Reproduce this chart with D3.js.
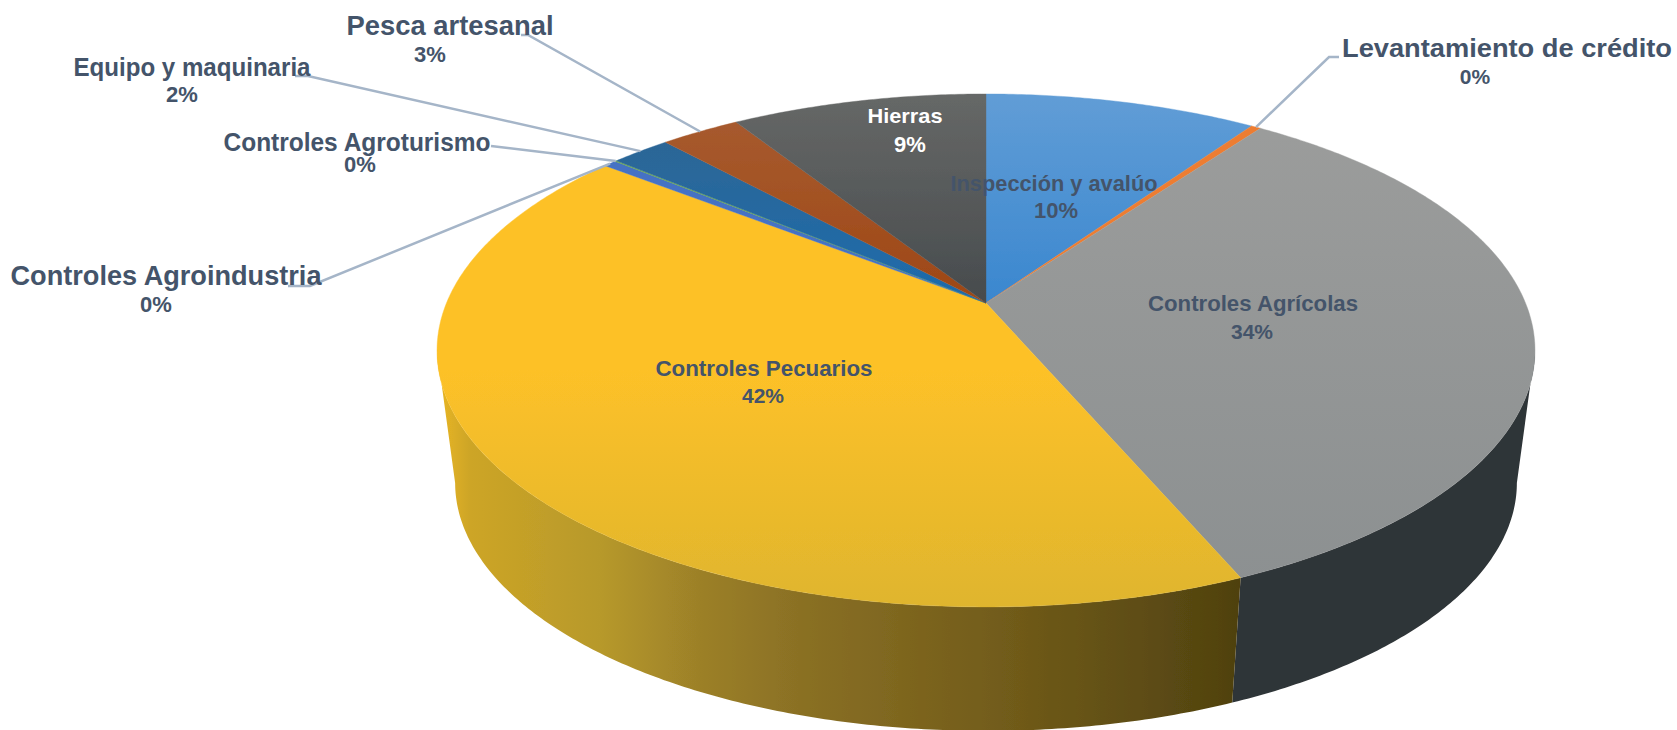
<!DOCTYPE html>
<html lang="es">
<head>
<meta charset="utf-8">
<script src="https://cdn.jsdelivr.net/npm/d3@7/dist/d3.min.js"></script>
<style>
html,body{margin:0;padding:0;background:#fff;overflow:hidden}
svg{display:block}
text{font-family:"Liberation Sans",Arial,sans-serif;font-weight:700;fill:#44546a;text-anchor:middle}
</style>
</head>
<body>
<svg id="chart" width="1677" height="730"></svg>
<script>
// ---------- data, clockwise from 12 o'clock ----------
const categories = ["Inspección y avalúo","Levantamiento de crédito","Controles Agrícolas","Controles Pecuarios","Controles Agroindustria","Controles Agroturismo","Equipo y maquinaria","Pesca artesanal","Hierras"];
const values = [9.6,0.35,33.65,42,0.45,0.06,2.1,2.8,9];
// ---------- styling ----------
const topFrom = ["#619dd6","#ed7d31","#9c9d9c","#fdc128","#4472c4","#70ad47","#32648f","#a85d32","#666867"];
const topTo   = ["#3a87cf","#ed7d31","#8c9091","#dfb52e","#4472c4","#70ad47","#1c6cad","#9e4715","#474b4d"];
const labelColors = ["#44546a","#44546a","#44546a","#44546a","#44546a","#44546a","#44546a","#44546a","#ffffff"];
const fontSizes = [22,25,22,22,27,25,25,27,21];
const pctSizes  = [22,21,21,21,22,22,22,22,22];
// label layout: name centre x, name baseline, width, percent centre x, percent baseline
const nameX = [1054,1507,1253,764,166,357,192,450,905];
const nameY = [191,57,311,376,285,151,76,35,123];
const nameW = [207,330,210,217,311,267,237,207,75];
const pctX  = [1056,1475,1252,763,156,360,182,430,910];
const pctY  = [218,84,339,403,312,172,102,62,152];
// leader elbow points: text end, elbow (only for labels outside the pie)
const leaderA = {1:[1339,57],4:[288,286],5:[491,146],6:[295,76],7:[521,35]};
const leaderB = {1:[1329,57],4:[310,286],5:[491,146],6:[308,76],7:[528,35]};

// ---------- projection of the tilted disc ----------
const cx = 986, cyTop = 303, cyBottom = 437;
const Rx = 539.5, Ry = 247.7, k = 0.185, baseScale = 0.967;
function project(theta, level) { // level 0 = top face, 1 = bottom face
  const u = Math.sin(theta), v = -Math.cos(theta);
  const s = 1 / (1 - k * v);
  const f = level ? baseScale : 1;
  return [cx + f * Rx * u * s, (level ? cyBottom : cyTop) + f * Ry * v * s];
}
const silhouette = Math.PI - Math.acos(k);

const pie = d3.pie().sort(null).value(d => d);
const arcs = pie(values);
const svg = d3.select("#chart");
const defs = svg.append("defs");
const line = d3.line();

function arcPoints(a0, a1, level) {
  const n = Math.max(2, Math.ceil(Math.abs(a1 - a0) / 0.01));
  return d3.range(n + 1).map(i => project(a0 + (a1 - a0) * i / n, level));
}

// top-face gradients
categories.forEach((c, i) => {
  const g = defs.append("linearGradient").attr("id", "top" + i)
    .attr("gradientUnits", "userSpaceOnUse")
    .attr("x1", 0).attr("x2", 0).attr("y1", i === 3 ? 370 : 94).attr("y2", i === 3 ? 607 : (i === 2 ? 590 : 303));
  g.append("stop").attr("offset", 0).attr("stop-color", topFrom[i]);
  g.append("stop").attr("offset", 1).attr("stop-color", topTo[i]);
});
// yellow wall gradient
const sideStops = [[440,"#e8b524"],[470,"#cda526"],[600,"#b7992b"],[700,"#9c8028"],[800,"#8a7024"],[1000,"#725c1a"],[1150,"#5d4c13"],[1240,"#4f410f"]];
const sg = defs.append("linearGradient").attr("id", "sideY")
  .attr("gradientUnits", "userSpaceOnUse").attr("x1", 440).attr("x2", 1240).attr("y1", 0).attr("y2", 0);
sideStops.forEach(s => sg.append("stop").attr("offset", (s[0] - 440) / 800).attr("stop-color", s[1]));
const blur = defs.append("filter").attr("id","soft").attr("filterUnits","userSpaceOnUse")
  .attr("x",0).attr("y",0).attr("width",1677).attr("height",730);
blur.append("feGaussianBlur").attr("stdDeviation",0.7);

const pieGroup = svg.append("g").attr("filter","url(#soft)");

// side walls (only the two slices facing the viewer)
const walls = [
  {start: silhouette, end: arcs[2].endAngle, fill: "#2f3437"},
  {start: arcs[3].startAngle, end: 2 * Math.PI - silhouette, fill: "url(#sideY)"}
];
pieGroup.append("g").selectAll("path").data(walls).join("path")
  .attr("d", d => line(arcPoints(d.start, d.end, 0).concat(arcPoints(d.end, d.start, 1))) + "Z")
  .attr("fill", d => d.fill);

// top face
pieGroup.append("g").selectAll("path").data(arcs).join("path")
  .attr("d", d => line([[cx, cyTop], ...arcPoints(d.startAngle, d.endAngle, 0)]) + "Z")
  .attr("fill", (d, i) => `url(#top${i})`)
  .attr("stroke", (d, i) => `url(#top${i})`).attr("stroke-width", 0.4);

// leaders
const leaderIdx = Object.keys(leaderA).map(Number);
svg.append("g").selectAll("path").data(leaderIdx).join("path")
  .attr("d", i => {
    const mid = (arcs[i].startAngle + arcs[i].endAngle) / 2;
    return line([leaderA[i], leaderB[i], project(mid, 0)]);
  })
  .attr("fill", "none").attr("stroke", "#a5b5c8").attr("stroke-width", 2.5);

// labels
const fmt = d3.format(".0%");
const total = d3.sum(values);
const lab = svg.append("g").selectAll("g").data(categories).join("g");
lab.append("text").attr("x", (d, i) => nameX[i]).attr("y", (d, i) => nameY[i])
  .attr("font-size", (d, i) => fontSizes[i])
  .attr("textLength", (d, i) => nameW[i]).attr("lengthAdjust", "spacingAndGlyphs")
  .style("fill", (d, i) => labelColors[i]).text(d => d);
lab.append("text").attr("x", (d, i) => pctX[i]).attr("y", (d, i) => pctY[i])
  .attr("font-size", (d, i) => pctSizes[i])
  .style("fill", (d, i) => labelColors[i]).text((d, i) => fmt(values[i] / total));
</script>
</body>
</html>
